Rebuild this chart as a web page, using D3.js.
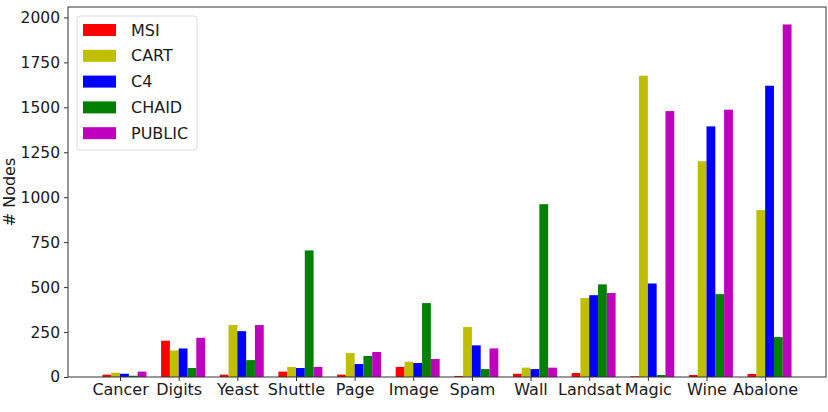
<!DOCTYPE html>
<html>
<head>
<meta charset="utf-8">
<script src="https://cdn.jsdelivr.net/npm/d3@7"></script>
<style>
  html, body { margin: 0; padding: 0; background: #fff; }
  svg { display: block; font-family: "DejaVu Sans", sans-serif; }
</style>
</head>
<body>
<div id="chart"></div>
<script>
const categories = ["Cancer","Digits","Yeast","Shuttle","Page","Image","Spam","Wall","Landsat","Magic","Wine","Abalone"];
const seriesNames = ["MSI","CART","C4","CHAID","PUBLIC"];
const seriesColors = ["#ff0000","#bfbf00","#0000ff","#008000","#bf00bf"];
const msi    = [13, 202, 13, 30, 13, 56, 6, 18, 22, 4, 11, 17];
const cart   = [24, 148, 289, 56, 133, 85, 278, 52, 439, 1676, 1200, 928];
const c4     = [18, 159, 255, 50, 72, 78, 176, 44, 455, 520, 1394, 1620];
const chaid  = [7, 50, 94, 704, 117, 411, 44, 961, 515, 11, 461, 222];
const publicV= [30, 218, 289, 56, 139, 100, 159, 52, 467, 1479, 1487, 1961];
const yTicks = [0, 250, 500, 750, 1000, 1250, 1500, 1750, 2000];
const yLabel = "# Nodes";

const seriesValues = [msi, cart, c4, chaid, publicV];
const W = 828, H = 412;
const barW = 0.15;
const mLeft = 68, mRight = 826, mTop = 7, mBottom = 377;

const svg = d3.select("#chart").append("svg").attr("width", W).attr("height", H);

const x = d3.scaleLinear().domain([-0.8875, 12.0375]).range([mLeft, mRight]);
const y = d3.scaleLinear().domain([0, 2058]).range([mBottom, mTop]);

// bars
seriesValues.forEach((vals, k) => {
  svg.append("g").attr("fill", seriesColors[k])
    .selectAll("rect").data(vals).join("rect")
    .attr("x", (d, i) => x(i + (k - 2) * barW))
    .attr("width", x(barW) - x(0))
    .attr("y", d => y(d))
    .attr("height", d => y(0) - y(d));
});

// axes
const xAxis = d3.axisBottom(x).tickValues(d3.range(categories.length))
  .tickFormat(i => categories[i]).tickSize(4).tickPadding(3);
const gx = svg.append("g").attr("transform", `translate(0,${mBottom})`).call(xAxis);
gx.select(".domain").remove();
gx.selectAll("text").attr("font-size", 16).attr("fill", "#1a1a1a").attr("font-family", "DejaVu Sans");
gx.selectAll("line").attr("stroke", "#333");

const yAxis = d3.axisLeft(y).tickValues(yTicks).tickFormat(d3.format("d")).tickSize(4).tickPadding(4);
const gy = svg.append("g").attr("transform", `translate(${mLeft},0)`).call(yAxis);
gy.select(".domain").remove();
gy.selectAll("text").attr("font-size", 15.5).attr("fill", "#1a1a1a").attr("font-family", "DejaVu Sans");
gy.selectAll("line").attr("stroke", "#333");

// frame
svg.append("rect").attr("x", mLeft).attr("y", mTop).attr("width", mRight - mLeft).attr("height", mBottom - mTop)
  .attr("fill", "none").attr("stroke", "#333").attr("stroke-width", 1);

// y label
svg.append("text").attr("transform", `translate(9,${(mTop + mBottom) / 2}) rotate(-90)`)
  .attr("text-anchor", "middle").attr("dominant-baseline", "central")
  .attr("font-size", 16).attr("fill", "#1a1a1a").text(yLabel);

// legend
const lg = svg.append("g");
lg.append("rect").attr("x", 77).attr("y", 16).attr("width", 120).attr("height", 134)
  .attr("rx", 3).attr("fill", "#fff").attr("fill-opacity", 0.8).attr("stroke", "#ddd");
seriesNames.forEach((name, k) => {
  const cy = 30 + k * 25.8;
  lg.append("rect").attr("x", 83).attr("y", cy - 6).attr("width", 33).attr("height", 12).attr("fill", seriesColors[k]);
  lg.append("text").attr("x", 131).attr("y", cy).attr("dominant-baseline", "central")
    .attr("font-size", 16).attr("fill", "#1a1a1a").text(name);
});
</script>
</body>
</html>
